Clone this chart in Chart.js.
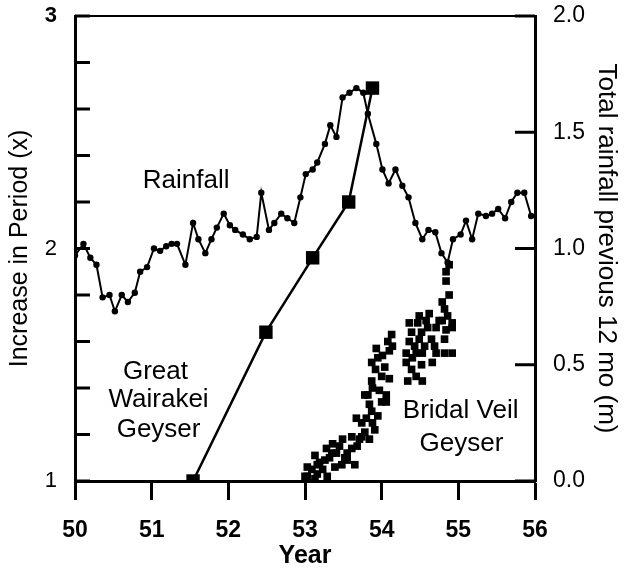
<!DOCTYPE html>
<html lang="en">
<head>
    <meta charset="UTF-8">
    <title>Geyser Period and Rainfall</title>
    <script src="https://cdn.jsdelivr.net/npm/chart.js@4.4.1/dist/chart.umd.min.js"></script>
    <style>
        body { margin: 0; background: #fff; }
        .chart-container { width: 624px; height: 571px; position: relative; }
    </style>
</head>
<body>
    <div class="chart-container">
        <canvas id="geyserChart"></canvas>
    </div>
    <script>
        // Rainfall, total of previous 12 months (m), roughly monthly
        const rainYears = [50.00, 50.11, 50.20, 50.28, 50.36, 50.45, 50.52, 50.61, 50.69, 50.78, 50.85, 50.94,
            51.03, 51.11, 51.19, 51.26, 51.33, 51.44, 51.54, 51.61, 51.70, 51.78, 51.85, 51.94,
            52.02, 52.09, 52.19, 52.28, 52.37, 52.43, 52.53, 52.60, 52.69, 52.77, 52.86, 52.94,
            53.01, 53.10, 53.16, 53.26, 53.33, 53.41, 53.49, 53.58, 53.67, 53.76, 53.82, 53.93,
            54.01, 54.09, 54.18, 54.27, 54.35, 54.44, 54.53, 54.61, 54.70, 54.78, 54.86, 54.93,
            55.03, 55.10, 55.18, 55.26, 55.36, 55.44, 55.52, 55.61, 55.69, 55.77, 55.86, 55.95];
        const rainValues = [0.97, 1.02, 0.96, 0.93, 0.79, 0.80, 0.73, 0.80, 0.77, 0.81, 0.90, 0.92,
            1.00, 0.99, 1.01, 1.02, 1.02, 0.93, 1.11, 1.04, 0.98, 1.04, 1.09, 1.15,
            1.10, 1.08, 1.06, 1.04, 1.05, 1.24, 1.08, 1.11, 1.15, 1.13, 1.11, 1.22,
            1.32, 1.34, 1.37, 1.45, 1.53, 1.48, 1.65, 1.67, 1.69, 1.67, 1.58, 1.45,
            1.34, 1.28, 1.34, 1.27, 1.22, 1.11, 1.04, 1.08, 1.07, 0.98, 0.94, 1.04,
            1.06, 1.12, 1.04, 1.15, 1.14, 1.15, 1.17, 1.13, 1.20, 1.24, 1.24, 1.14];

        // Great Wairakei Geyser, increase in period (x)
        const wairakeiYears = [51.54, 52.49, 53.10, 53.57, 53.88];
        const wairakeiValues = [1.00, 1.64, 1.96, 2.20, 2.69];

        // Bridal Veil Geyser, increase in period (x)
        const bridalYears = [53.00, 53.03, 53.06, 53.13, 53.13, 53.19, 53.23, 53.28, 53.29, 53.32,
            53.36, 53.39, 53.41, 53.48, 53.49, 53.55, 53.55, 53.61, 53.65, 53.68,
            53.74, 53.84, 53.67, 53.74, 53.80, 53.87, 53.88, 53.84, 53.95, 53.82,
            54.00, 54.06, 53.78, 53.88, 54.06, 53.87, 54.00, 54.10, 54.04, 53.87,
            53.95, 53.93, 54.10, 54.14, 54.08, 54.13, 54.34, 54.45, 54.53, 54.32,
            54.40, 54.52, 54.66, 54.32, 54.45, 54.53, 54.71, 54.82, 54.92, 54.36,
            54.49, 54.65, 54.39, 54.52, 54.60, 54.82, 54.36, 54.47, 54.58, 54.62,
            54.84, 54.92, 54.79, 54.92, 54.82, 54.79, 54.88, 54.84, 54.84, 54.88, 54.71,
            53.09, 53.16, 53.26, 53.35, 53.45, 53.52, 53.61, 53.71, 53.78, 53.91, 53.03, 53.16,
            53.97, 53.92, 54.01, 54.43, 54.56, 54.69, 54.39, 54.75, 54.86, 54.49];
        const bridalValues = [1.02, 1.06, 0.99, 1.11, 1.01, 1.08, 1.05, 1.14, 1.02, 1.10,
            1.16, 1.06, 1.12, 1.07, 1.18, 1.12, 1.09, 1.19, 1.07, 1.15,
            1.19, 1.18, 1.27, 1.25, 1.27, 1.30, 1.25, 1.33, 1.28, 1.37,
            1.34, 1.34, 1.37, 1.40, 1.37, 1.43, 1.45, 1.44, 1.49, 1.51,
            1.53, 1.57, 1.56, 1.58, 1.60, 1.63, 1.43, 1.45, 1.43, 1.51,
            1.53, 1.50, 1.51, 1.55, 1.55, 1.55, 1.55, 1.55, 1.55, 1.60,
            1.61, 1.61, 1.64, 1.64, 1.66, 1.61, 1.68, 1.68, 1.69, 1.72,
            1.65, 1.66, 1.69, 1.68, 1.74, 1.77, 1.80, 1.86, 1.90, 1.93, 1.66,
            1.05, 1.07, 1.09, 1.12, 1.15, 1.10, 1.14, 1.18, 1.21, 1.22, 1.02, 1.03,
            1.39, 1.48, 1.54, 1.58, 1.58, 1.58, 1.48, 1.69, 1.71, 1.71];

        // text labels inside the plot, placed in data units
        const noteTexts = ['Rainfall', 'Great', 'Wairakei', 'Geyser', 'Bridal Veil', 'Geyser'];
        const noteYears = [51.45, 51.05, 51.09, 51.09, 55.03, 55.04];
        const noteLevels = [2.29, 1.47, 1.35, 1.22, 1.30, 1.16];

        const FONT = "'Liberation Sans', Arial, Helvetica, sans-serif";
        Chart.defaults.font.family = FONT;
        Chart.defaults.color = '#000';

        const toPoints = (xs, ys) => xs.map((x, i) => ({ x: x, y: ys[i] }));

        // pin the plot box: top at 16px, no extra label padding
        const fitVertical = width => s => {
            s.width = width;
            s.paddingTop = 16;
            s.paddingBottom = 0;
        };

        // inward tick marks on both y axes plus the top frame line
        const innerTicks = {
            id: 'innerTicks',
            afterDraw(chart) {
                const { ctx, chartArea, scales } = chart;
                ctx.save();
                ctx.strokeStyle = '#000';
                ctx.lineWidth = 3;
                scales.y.ticks.forEach(t => {
                    const py = scales.y.getPixelForValue(t.value);
                    ctx.beginPath();
                    ctx.moveTo(chartArea.left, py);
                    ctx.lineTo(chartArea.left + 15, py);
                    ctx.stroke();
                });
                scales.yRain.ticks.forEach(t => {
                    const py = scales.yRain.getPixelForValue(t.value);
                    ctx.beginPath();
                    ctx.moveTo(chartArea.right, py);
                    ctx.lineTo(chartArea.right - 20, py);
                    ctx.stroke();
                });
                ctx.lineWidth = 2;
                ctx.beginPath();
                ctx.moveTo(chartArea.left, chartArea.top);
                ctx.lineTo(chartArea.right, chartArea.top);
                ctx.stroke();
                ctx.restore();
            }
        };

        const notes = {
            id: 'notes',
            afterDraw(chart) {
                const { ctx, scales } = chart;
                ctx.save();
                ctx.fillStyle = '#000';
                ctx.font = '26px ' + FONT;
                ctx.textAlign = 'center';
                ctx.textBaseline = 'middle';
                noteTexts.forEach((txt, i) => {
                    ctx.fillText(txt, scales.x.getPixelForValue(noteYears[i]), scales.y.getPixelForValue(noteLevels[i]));
                });
                ctx.restore();
            }
        };

        const ctx = document.getElementById('geyserChart').getContext('2d');
        new Chart(ctx, {
            type: 'scatter',
            data: {
                datasets: [
                    {
                        label: 'Rainfall',
                        data: toPoints(rainYears, rainValues),
                        yAxisID: 'yRain',
                        showLine: true,
                        borderColor: '#000',
                        backgroundColor: '#000',
                        borderWidth: 2,
                        pointRadius: 3.2,
                        pointBorderWidth: 0
                    },
                    {
                        label: 'Great Wairakei Geyser',
                        data: toPoints(wairakeiYears, wairakeiValues),
                        yAxisID: 'y',
                        showLine: true,
                        borderColor: '#000',
                        backgroundColor: '#000',
                        borderWidth: 2.5,
                        pointStyle: 'rect',
                        pointRadius: 9.5,
                        pointBorderWidth: 0
                    },
                    {
                        label: 'Bridal Veil Geyser',
                        data: toPoints(bridalYears, bridalValues),
                        yAxisID: 'y',
                        showLine: false,
                        borderColor: '#000',
                        backgroundColor: '#000',
                        pointStyle: 'rect',
                        pointRadius: 5.4,
                        pointBorderWidth: 0
                    }
                ]
            },
            options: {
                responsive: true,
                maintainAspectRatio: false,
                animation: false,
                layout: { padding: 0 },
                plugins: {
                    legend: { display: false },
                    tooltip: { enabled: false }
                },
                scales: {
                    x: {
                        type: 'linear',
                        position: 'bottom',
                        min: 50,
                        max: 56,
                        ticks: {
                            stepSize: 1,
                            padding: 17,
                            font: { size: 23, weight: 'bold' },
                            callback: v => String(v)
                        },
                        grid: {
                            drawOnChartArea: false,
                            drawTicks: true,
                            tickLength: 19,
                            tickWidth: 3,
                            tickColor: '#000'
                        },
                        border: { display: true, color: '#000', width: 3 },
                        title: {
                            display: true,
                            text: 'Year',
                            font: { size: 25, weight: 'bold' },
                            padding: { top: 0, bottom: 0 }
                        },
                        afterFit: s => {
                            s.height = 90;
                            s.paddingLeft = 0;
                            s.paddingRight = 0;
                        }
                    },
                    y: {
                        type: 'linear',
                        position: 'left',
                        min: 1,
                        max: 3,
                        ticks: {
                            stepSize: 0.2,
                            autoSkip: false,
                            padding: 18,
                            font: c => ({ size: 22, weight: (c.tick && Math.abs(c.tick.value - 3) < 1e-6) ? 'bold' : 'normal' }),
                            callback: v => Math.abs(v - Math.round(v)) < 1e-6 ? String(Math.round(v)) : ''
                        },
                        grid: { drawOnChartArea: false, drawTicks: false },
                        border: { display: true, color: '#000', width: 3 },
                        title: {
                            display: true,
                            text: 'Increase in Period (x)',
                            font: { size: 25 },
                            padding: { top: 5, bottom: 0 }
                        },
                        afterFit: fitVertical(75)
                    },
                    yRain: {
                        type: 'linear',
                        position: 'right',
                        min: 0,
                        max: 2,
                        ticks: {
                            stepSize: 0.5,
                            padding: 18,
                            font: { size: 23 },
                            callback: v => v.toFixed(1)
                        },
                        grid: { drawOnChartArea: false, drawTicks: false },
                        border: { display: true, color: '#000', width: 3 },
                        title: {
                            display: true,
                            text: 'Total rainfall previous 12 mo (m)',
                            font: { size: 26 },
                            padding: { top: 2, bottom: 0 }
                        },
                        afterFit: fitVertical(89)
                    }
                }
            },
            plugins: [innerTicks, notes]
        });
    </script>
</body>
</html>
